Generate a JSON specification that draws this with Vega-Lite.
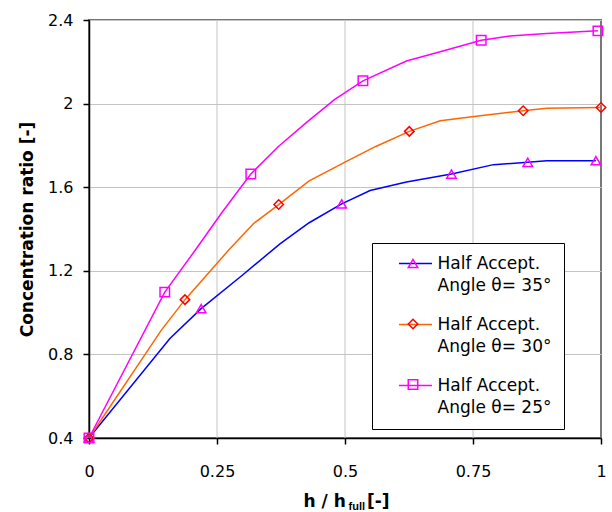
{
  "$schema": "https://vega.github.io/schema/vega-lite/v6.json",
  "width": 512,
  "height": 418,
  "autosize": {"type": "none"},
  "padding": {"left": 89, "top": 20, "right": 11, "bottom": 74},
  "background": "white",
  "config": {
    "font": "DejaVu Sans",
    "view": {"stroke": "#777777", "strokeWidth": 2},
    "axis": {"labelFont": "DejaVu Sans", "titleFont": "DejaVu Sans", "labelColor": "black", "titleColor": "black"},
    "legend": {"labelFont": "DejaVu Sans", "labelFontSize": 17, "labelColor": "black", "labelLimit": 300}
  },
  "datasets": {
    "curves": [
      {"angle": "35", "h": 0, "ratio": 0.4},
      {"angle": "35", "h": 0.158, "ratio": 0.876},
      {"angle": "35", "h": 0.219, "ratio": 1.019},
      {"angle": "35", "h": 0.30, "ratio": 1.18},
      {"angle": "35", "h": 0.373, "ratio": 1.329},
      {"angle": "35", "h": 0.43, "ratio": 1.43},
      {"angle": "35", "h": 0.4935, "ratio": 1.52},
      {"angle": "35", "h": 0.549, "ratio": 1.584},
      {"angle": "35", "h": 0.62, "ratio": 1.625},
      {"angle": "35", "h": 0.708, "ratio": 1.663},
      {"angle": "35", "h": 0.79, "ratio": 1.708},
      {"angle": "35", "h": 0.857, "ratio": 1.719},
      {"angle": "35", "h": 0.894, "ratio": 1.727},
      {"angle": "35", "h": 0.99, "ratio": 1.727},
      {"angle": "30", "h": 0, "ratio": 0.4},
      {"angle": "30", "h": 0.141, "ratio": 0.915},
      {"angle": "30", "h": 0.1875, "ratio": 1.062},
      {"angle": "30", "h": 0.272, "ratio": 1.297},
      {"angle": "30", "h": 0.321, "ratio": 1.425},
      {"angle": "30", "h": 0.3705, "ratio": 1.517},
      {"angle": "30", "h": 0.43, "ratio": 1.63},
      {"angle": "30", "h": 0.5, "ratio": 1.72},
      {"angle": "30", "h": 0.56, "ratio": 1.795},
      {"angle": "30", "h": 0.6256, "ratio": 1.867},
      {"angle": "30", "h": 0.686, "ratio": 1.918},
      {"angle": "30", "h": 0.764, "ratio": 1.942},
      {"angle": "30", "h": 0.848, "ratio": 1.966},
      {"angle": "30", "h": 0.894, "ratio": 1.978},
      {"angle": "30", "h": 1.0, "ratio": 1.981},
      {"angle": "25", "h": 0, "ratio": 0.4},
      {"angle": "25", "h": 0.148, "ratio": 1.098},
      {"angle": "25", "h": 0.207, "ratio": 1.297},
      {"angle": "25", "h": 0.26, "ratio": 1.48},
      {"angle": "25", "h": 0.316, "ratio": 1.663},
      {"angle": "25", "h": 0.37, "ratio": 1.795},
      {"angle": "25", "h": 0.425, "ratio": 1.91},
      {"angle": "25", "h": 0.48, "ratio": 2.02},
      {"angle": "25", "h": 0.535, "ratio": 2.109},
      {"angle": "25", "h": 0.62, "ratio": 2.204},
      {"angle": "25", "h": 0.70, "ratio": 2.258},
      {"angle": "25", "h": 0.766, "ratio": 2.303},
      {"angle": "25", "h": 0.822, "ratio": 2.324},
      {"angle": "25", "h": 0.894, "ratio": 2.335},
      {"angle": "25", "h": 0.994, "ratio": 2.348}
    ],
    "markers": [
      {"angle": "35", "h": 0, "ratio": 0.4},
      {"angle": "35", "h": 0.219, "ratio": 1.019},
      {"angle": "35", "h": 0.4935, "ratio": 1.52},
      {"angle": "35", "h": 0.708, "ratio": 1.663},
      {"angle": "35", "h": 0.857, "ratio": 1.719},
      {"angle": "35", "h": 0.99, "ratio": 1.727},
      {"angle": "30", "h": 0, "ratio": 0.4},
      {"angle": "30", "h": 0.1875, "ratio": 1.062},
      {"angle": "30", "h": 0.3705, "ratio": 1.517},
      {"angle": "30", "h": 0.6256, "ratio": 1.867},
      {"angle": "30", "h": 0.848, "ratio": 1.966},
      {"angle": "30", "h": 1.0, "ratio": 1.981},
      {"angle": "25", "h": 0, "ratio": 0.4},
      {"angle": "25", "h": 0.148, "ratio": 1.098},
      {"angle": "25", "h": 0.316, "ratio": 1.663},
      {"angle": "25", "h": 0.535, "ratio": 2.109},
      {"angle": "25", "h": 0.766, "ratio": 2.303},
      {"angle": "25", "h": 0.994, "ratio": 2.348}
    ],
    "xgrid": [{"g": 0.25}, {"g": 0.5}, {"g": 0.75}]
  },
  "layer": [
    {
      "data": {"name": "xgrid"},
      "mark": {"type": "rule", "color": "#c4c4c4", "strokeWidth": 1},
      "encoding": {"x": {"field": "g", "type": "quantitative"}}
    },
    {
      "data": {"name": "curves"},
      "mark": {"type": "line", "strokeWidth": 1.5},
      "encoding": {
        "x": {
          "field": "h", "type": "quantitative",
          "scale": {"domain": [0, 1], "nice": false, "zero": false},
          "axis": {
            "orient": "bottom",
            "values": [0, 0.25, 0.5, 0.75, 1], "labelExpr": "format(datum.value, '.2~f')",
            "grid": false, "labelFlush": false,
            "domainColor": "black", "domainWidth": 1.5,
            "tickColor": "black", "tickSize": 6, "tickWidth": 1.5,
            "labelFontSize": 16, "labelPadding": 19,
            "title": "h / h\u00a0\u00a0\u00a0\u2009[-]",
            "titleFontSize": 17, "titleFontWeight": "bold",
            "titleX": 214, "titleY": 68, "titleAlign": "left", "titleBaseline": "alphabetic"
          }
        },
        "y": {
          "field": "ratio", "type": "quantitative",
          "scale": {"domain": [0.4, 2.4], "nice": false, "zero": false},
          "axis": {
            "orient": "left",
            "values": [0.4, 0.8, 1.2, 1.6, 2, 2.4], "labelExpr": "format(datum.value, '.1~f')",
            "grid": true, "gridColor": "#c4c4c4", "gridWidth": 1,
            "domainColor": "black", "domainWidth": 1.5,
            "tickColor": "black", "tickSize": 6, "tickWidth": 1.5,
            "labelFontSize": 16, "labelPadding": 10,
            "title": "Concentration ratio [-]",
            "titleFontSize": 17, "titleFontWeight": "bold",
            "titleX": -62, "titleY": 209, "titleAngle": -90, "titleAlign": "center", "titleBaseline": "middle"
          }
        },
        "color": {
          "field": "angle", "type": "nominal",
          "scale": {"domain": ["35", "30", "25"], "range": ["#0000FF", "#FF6600", "#FF00FF"]},
          "legend": {
            "orient": "none", "legendX": 283, "legendY": 223,
            "title": "\u00a0", "titleOrient": "left", "titlePadding": 12, "titleFontSize": 17,
            "padding": 12, "rowPadding": 20, "strokeColor": "black", "fillColor": "white",
            "symbolType": "M-3.48,0H3.48", "symbolSize": 90, "symbolStrokeWidth": 1.5, "symbolOffset": 11,
            "labelOffset": 13.5,
            "labelExpr": "['Half Accept.', 'Angle θ= ' + datum.label + '°\u00a0\u00a0\u00a0\u00a0\u00a0\u00a0\u00a0\u00a0\u00a0\u00a0\u00a0']",
            "encode": {
              "labels": {"update": {"lineHeight": {"value": 22.7}}}
            }
          }
        }
      }
    },
    {
      "data": {"name": "markers"},
      "mark": {"type": "point", "filled": false, "strokeWidth": 1.5, "size": 90, "opacity": 1},
      "encoding": {
        "x": {"field": "h", "type": "quantitative"},
        "y": {
          "field": "ratio", "type": "quantitative",
          "axis": {
            "orient": "right", "title": "full", "labels": false, "ticks": false, "domain": false, "grid": false,
            "titleFont": "Liberation Sans", "titleFontSize": 11, "titleFontWeight": "bold", "titleAngle": 0,
            "titleX": -253, "titleY": 489, "titleAlign": "left", "titleBaseline": "alphabetic"
          }
        },
        "shape": {
          "field": "angle", "type": "nominal", "sort": "descending",
          "scale": {"range": ["triangle-up", "diamond", "square"]},
          "legend": {
            "orient": "none", "legendX": 315.5, "legendY": 235, "title": null, "padding": 0, "rowPadding": 23.5,
            "symbolSize": 90, "symbolStrokeWidth": 1.5, "labelOpacity": 0, "labelOffset": 6,
            "labelExpr": "['\u00a0', '\u00a0']",
            "encode": {
              "labels": {"update": {"lineHeight": {"value": 22.7}}}
            }
          }
        },
        "stroke": {
          "field": "angle", "type": "nominal", "sort": "descending",
          "scale": {"range": ["#FF00FF", "#FF0000", "#FF00FF"]},
          "legend": {
            "orient": "none", "legendX": 315.5, "legendY": 235, "title": null, "padding": 0, "rowPadding": 23.5,
            "symbolSize": 90, "symbolStrokeWidth": 1.5, "labelOpacity": 0, "labelOffset": 6,
            "labelExpr": "['\u00a0', '\u00a0']",
            "encode": {
              "labels": {"update": {"lineHeight": {"value": 22.7}}}
            }
          }
        }
      }
    }
  ],
  "resolve": {"axis": {"y": "independent"}}
}
